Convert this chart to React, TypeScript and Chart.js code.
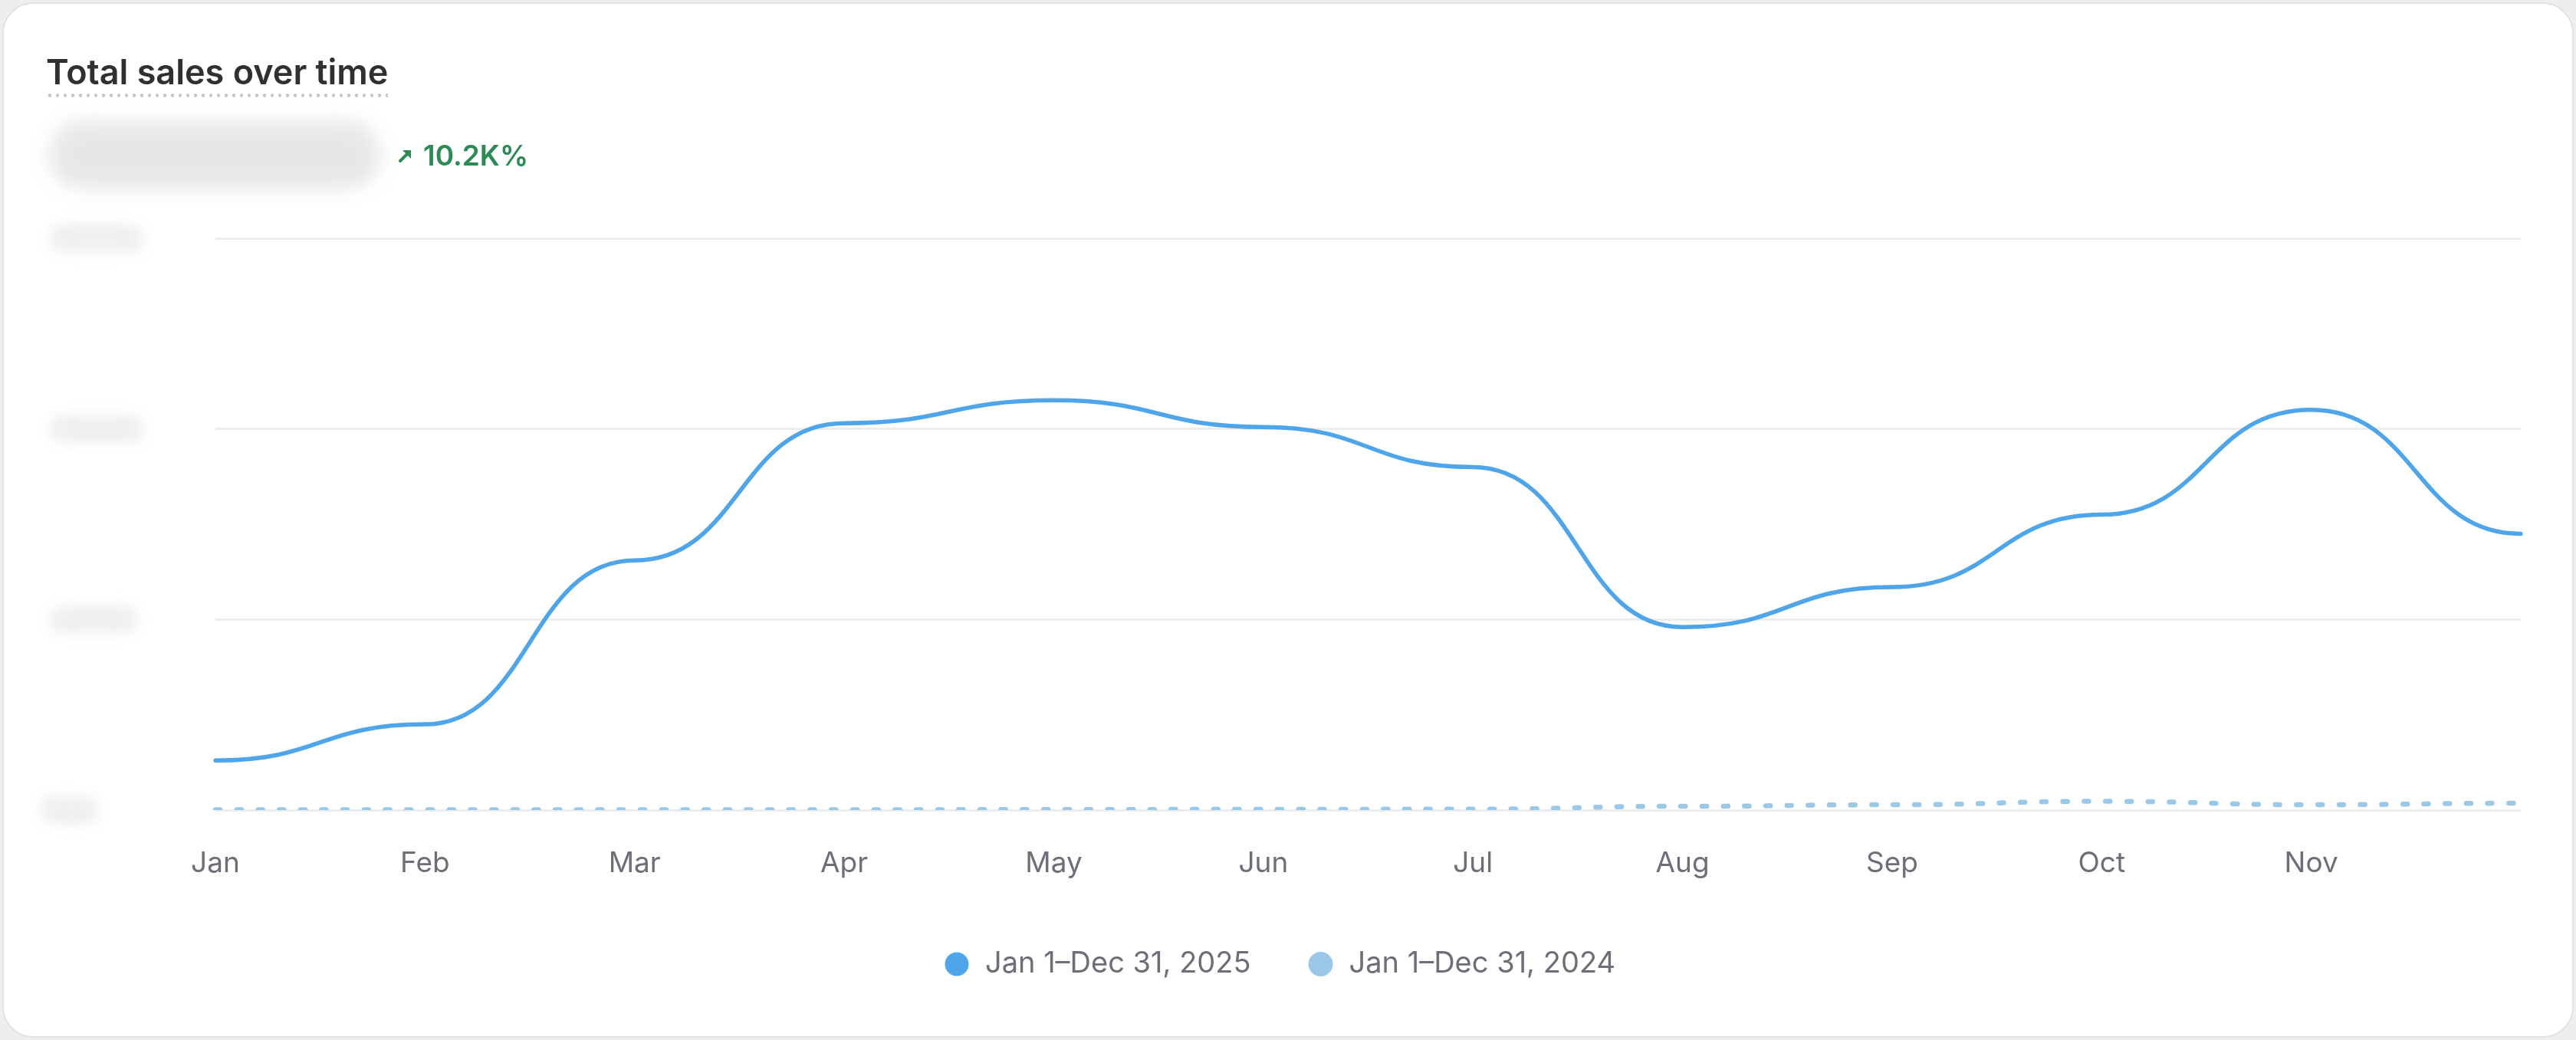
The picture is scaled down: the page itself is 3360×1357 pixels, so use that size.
import React, { useEffect, useRef } from 'react';
import { Chart, registerables } from 'chart.js';

Chart.register(...registerables);

// ---- data ----
const months = ['Jan', 'Feb', 'Mar', 'Apr', 'May', 'Jun', 'Jul', 'Aug', 'Sep', 'Oct', 'Nov', 'Dec'];
const sales2025 = [26, 45, 131, 203, 215, 201, 180, 96, 117, 155, 210, 145];
const sales2024 = [0.2, 0.2, 0.2, 0.2, 0.3, 0.4, 0.5, 2.0, 2.8, 4.6, 2.8, 3.6];
const seriesLabels = ['Jan 1–Dec 31, 2025', 'Jan 1–Dec 31, 2024'];
const yMax = 300;
const yStep = 100;
const titleText = 'Total sales over time';
const changeText = '10.2K%';

const LABEL_COLOR = '#6e6e78';
const FONT = 'Inter, "Noto Sans", sans-serif';

// Horizontal-tangent ("bump") curve between points, computed from the library's own point positions
const bumpPlugin = {
  id: 'bumpCurve',
  beforeDatasetsDraw(chart: any) {
    chart.getSortedVisibleDatasetMetas().forEach((meta: any) => {
      const line = meta.dataset;
      const pts = meta.data;
      if (!line || !pts || !pts.length) return;
      line.updateControlPoints(chart.chartArea, 'x');
      for (let i = 0; i < pts.length; i++) {
        const p = pts[i];
        const prev = pts[i - 1];
        const next = pts[i + 1];
        p.cp1x = prev ? (prev.x + p.x) / 2 : p.x;
        p.cp1y = p.y;
        p.cp2x = next ? (p.x + next.x) / 2 : p.x;
        p.cp2y = p.y;
      }
    });
  },
};

// Redacted (blurred) y-axis labels placed at the scale's tick positions
const yBlobPlugin = {
  id: 'yBlobs',
  afterDraw(chart: any) {
    const ctx = chart.ctx;
    const y = chart.scales.y;
    ctx.save();
    ctx.font = `600 36px ${FONT}`;
    ctx.filter = 'blur(8px)';
    ctx.fillStyle = '#f0f0f0';
    y.ticks.forEach((t: any) => {
      const py = y.getPixelForValue(t.value);
      const w = ctx.measureText('$' + t.value).width + 30;
      const h = 38;
      const x0 = t.value === 0 ? 52 : 64;
      ctx.beginPath();
      ctx.roundRect(x0, py - h / 2, w, h, h / 2);
      ctx.fill();
    });
    ctx.restore();
  },
};

function SalesChart() {
  const ref = useRef<HTMLCanvasElement | null>(null);
  useEffect(() => {
    if (!ref.current) return;
    const chart = new Chart(ref.current, {
      type: 'line',
      data: {
        labels: months,
        datasets: [
          {
            label: seriesLabels[0],
            data: sales2025,
            borderColor: '#4ea5e9',
            backgroundColor: '#4ea5e9',
            pointBackgroundColor: '#4ea5e9',
            pointBorderColor: '#4ea5e9',
            borderWidth: 5.5,
            pointRadius: 0,
            pointHoverRadius: 0,
            tension: 0.4,
            borderCapStyle: 'round',
            fill: false,
          },
          {
            label: seriesLabels[1],
            data: sales2024,
            borderColor: '#9cc8e8',
            backgroundColor: '#9cc8e8',
            pointBackgroundColor: '#9cc8e8',
            pointBorderColor: '#9cc8e8',
            borderWidth: 6.5,
            borderDash: [6, 21.7],
            borderCapStyle: 'round',
            pointRadius: 0,
            pointHoverRadius: 0,
            tension: 0.4,
            fill: false,
          },
        ],
      },
      options: {
        responsive: false,
        animation: false,
        layout: { padding: { left: 49, right: 72, top: 311, bottom: 70 } },
        plugins: {
          legend: {
            position: 'bottom',
            labels: {
              usePointStyle: true,
              pointStyle: 'circle',
              boxWidth: 36,
              boxHeight: 18,
              padding: 73,
              color: LABEL_COLOR,
              font: { family: FONT, size: 38 },
            },
          },
          tooltip: { enabled: false },
        },
        scales: {
          x: {
            grid: { display: false, drawTicks: false },
            border: { display: false },
            ticks: {
              padding: 48,
              color: LABEL_COLOR,
              font: { family: FONT, size: 37 },
              autoSkip: false,
              maxRotation: 0,
              callback: (_v: any, i: number) => (i === months.length - 1 ? '' : months[i]),
            },
            afterFit: (s: any) => {
              s.height = 109;
            },
          },
          y: {
            min: 0,
            max: yMax,
            ticks: { display: false, stepSize: yStep },
            grid: { color: '#ececec', lineWidth: 3, drawTicks: false },
            border: { display: false },
            afterFit: (s: any) => {
              s.width = 232;
            },
          },
        },
      },
      plugins: [bumpPlugin, yBlobPlugin],
    } as any);
    return () => chart.destroy();
  }, []);
  return (
    <canvas
      ref={ref}
      width={3360}
      height={1357}
      style={{ position: 'absolute', left: 0, top: 0, width: 3360, height: 1357 }}
    />
  );
}

export default function App() {
  useEffect(() => {
    document.body.style.margin = '0';
  }, []);
  return (
    <div style={{ position: 'relative', width: 3360, height: 1357, background: '#eeeeee', overflow: 'hidden' }}>
      <div
        style={{
          position: 'absolute',
          left: 3,
          top: 3,
          width: 3354,
          height: 1351,
          boxSizing: 'border-box',
          borderRadius: 40,
          background: '#ffffff',
          border: '2px solid #e3e3e3',
        }}
      />
      <SalesChart />
      <div
        style={{
          position: 'absolute',
          left: 60,
          top: 71,
          display: 'inline-block',
          fontFamily: FONT,
          fontWeight: 600,
          fontSize: 45,
          lineHeight: '45px',
          color: '#303030',
          whiteSpace: 'nowrap',
        }}
      >
        {titleText}
        <div
          style={{
            marginTop: 6,
            height: 5,
            width: '100%',
            backgroundImage: 'radial-gradient(circle, #c8c8c8 2px, rgba(255,255,255,0) 2.6px)',
            backgroundSize: '10px 5px',
            backgroundRepeat: 'repeat-x',
          }}
        />
      </div>
      <div
        style={{
          position: 'absolute',
          left: 64,
          top: 158,
          width: 432,
          height: 88,
          borderRadius: 44,
          background: '#e7e7e7',
          filter: 'blur(12px)',
        }}
      />
      <div
        style={{
          position: 'absolute',
          left: 518,
          top: 183,
          display: 'flex',
          alignItems: 'center',
          fontFamily: FONT,
          fontWeight: 600,
          fontSize: 37,
          lineHeight: '40px',
          color: '#2c8a55',
          whiteSpace: 'nowrap',
        }}
      >
        <svg width="22" height="22" viewBox="0 0 22 22" style={{ marginRight: 12 }}>
          <path d="M4 18 L16 6" stroke="#2c8a55" strokeWidth="4" strokeLinecap="round" />
          <path d="M7 4 L18 4 L18 15 Z" fill="#2c8a55" />
        </svg>
        {changeText}
      </div>
    </div>
  );
}
